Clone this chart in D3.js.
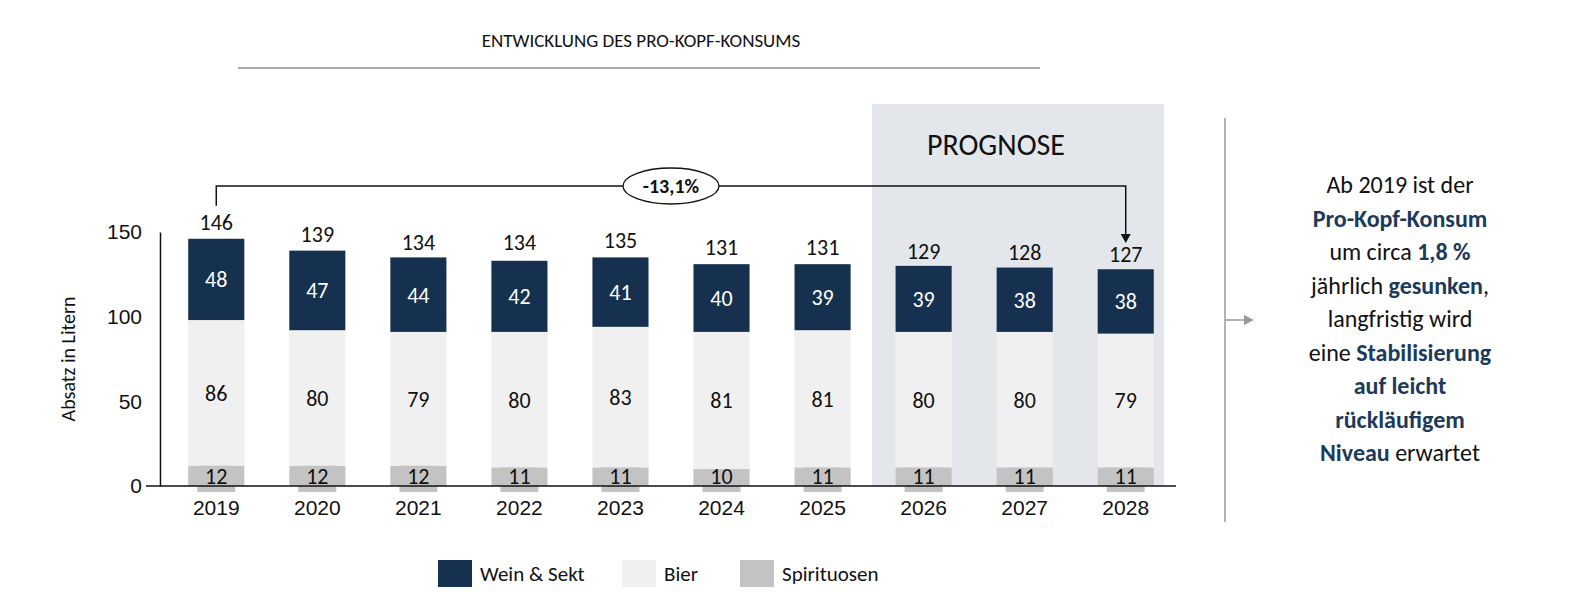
<!DOCTYPE html>
<html><head><meta charset="utf-8">
<script src="https://cdn.jsdelivr.net/npm/d3@7"></script>
<style>body{margin:0;background:#fff;font-family:Carlito,Lato,"Open Sans",sans-serif}</style>
</head><body><svg id="c" width="1592" height="604"></svg>
<script>
const years = ["2019","2020","2021","2022","2023","2024","2025","2026","2027","2028"];
const spirituosen = [12,12,12,11,11,10,11,11,11,11];
const bier = [86,80,79,80,83,81,81,80,80,79];
const wein = [48,47,44,42,41,40,39,39,38,38];
const totals = [146,139,134,134,135,131,131,129,128,127];
const yTicks = [0,50,100,150];
const series = [
  {key:"Spirituosen", vals:spirituosen, color:"#c3c3c3", text:"#111"},
  {key:"Bier", vals:bier, color:"#f0f0f0", text:"#111"},
  {key:"Wein & Sekt", vals:wein, color:"#15314f", text:"#fff"}
];
const navy = "#1c3a5a";
const svg = d3.select("#c");
const x = d3.scaleBand().domain(years).range([166,1176]).paddingInner(0.445).paddingOuter(0.22);
const y = d3.scaleLinear().domain([0,150]).range([486,232]);

// forecast area
svg.append("rect").attr("x",872).attr("y",104).attr("width",292).attr("height",382).attr("fill","#e3e7ec");
svg.append("text").attr("x",996).attr("y",155).attr("text-anchor","middle").attr("font-size",30).attr("fill","#111").text("PROGNOSE");

// title
svg.append("text").attr("x",641).attr("y",47).attr("text-anchor","middle").attr("font-size",19).attr("fill","#111").text("ENTWICKLUNG DES PRO-KOPF-KONSUMS");
svg.append("line").attr("x1",238).attr("x2",1040).attr("y1",68).attr("y2",68).attr("stroke","#555");

// stacks
years.forEach((yr,i)=>{
  let base = 0;
  series.forEach(s=>{
    const v = s.vals[i];
    svg.append("rect").attr("x",x(yr)).attr("width",x.bandwidth())
      .attr("y",y(base+v)).attr("height",y(base)-y(base+v)).attr("fill",s.color);
    const cx = x(yr)+x.bandwidth()/2;
    let cy = (y(base)+y(base+v))/2;
    if(s.key==="Spirituosen"){
      cy = y(0)-10;
      svg.append("rect").attr("x",cx-19).attr("y",cy-16).attr("width",38).attr("height",32).attr("fill",s.color);
    }
    svg.append("text").attr("x",cx).attr("y",cy+8).attr("text-anchor","middle")
      .attr("font-size",22).attr("fill",s.text).text(v);
    base += v;
  });
  svg.append("text").attr("x",x(yr)+x.bandwidth()/2).attr("y",y(totals[i])-9)
    .attr("text-anchor","middle").attr("font-size",22).attr("fill","#111").text(totals[i]);
});

// axes
const ya = svg.append("g").attr("transform","translate(160,0)")
  .call(d3.axisLeft(y).tickValues(yTicks).tickSize(0).tickPadding(18));
ya.select(".domain").attr("stroke","#111").attr("stroke-width",1.5);
ya.selectAll("text").attr("font-size",21).attr("fill","#111").attr("font-family","inherit");
const xa = svg.append("g").attr("transform","translate(0,486)")
  .call(d3.axisBottom(x).tickSize(0).tickPadding(14));
xa.select(".domain").attr("d","M146,0H1176").attr("stroke","#111").attr("stroke-width",1.5);
xa.selectAll("text").attr("font-size",21).attr("fill","#111").attr("font-family","inherit");
svg.append("text").attr("transform","translate(75,359) rotate(-90)").attr("text-anchor","middle")
  .attr("font-size",20).attr("fill","#111").text("Absatz in Litern");

// bracket
const x0 = x(years[0])+x.bandwidth()/2, x1 = x(years[9])+x.bandwidth()/2;
svg.append("path").attr("d",`M${x0},${y(totals[0])-33}V186H${x1}V${y(totals[9])-35}`)
  .attr("fill","none").attr("stroke","#111").attr("stroke-width",1.5);
svg.append("path").attr("d",`M${x1-5},${y(totals[9])-37}L${x1+5},${y(totals[9])-37}L${x1},${y(totals[9])-28}Z`).attr("fill","#111");
svg.append("ellipse").attr("cx",671).attr("cy",186).attr("rx",48).attr("ry",18).attr("fill","#fff").attr("stroke","#111").attr("stroke-width",1.3);
svg.append("text").attr("x",671).attr("y",193).attr("text-anchor","middle").attr("font-size",20).attr("font-weight","bold").attr("fill","#111").text("-13,1%");

// legend
const leg = [{k:"Wein & Sekt",c:"#15314f",x:438},{k:"Bier",c:"#f0f0f0",x:622},{k:"Spirituosen",c:"#c3c3c3",x:740}];
leg.forEach(l=>{
  svg.append("rect").attr("x",l.x).attr("y",560).attr("width",34).attr("height",27).attr("fill",l.c);
  svg.append("text").attr("x",l.x+42).attr("y",581).attr("font-size",21).attr("fill","#111").text(l.k);
});

// right annotation
svg.append("line").attr("x1",1225).attr("x2",1225).attr("y1",118).attr("y2",522).attr("stroke","#999").attr("stroke-width",1.5);
svg.append("line").attr("x1",1225).attr("x2",1246).attr("y1",320).attr("y2",320).attr("stroke","#999").attr("stroke-width",1.5);
svg.append("path").attr("d","M1244,315L1254,320L1244,325Z").attr("fill","#999");
const lines = [
  [["Ab 2019 ist der",0]],
  [["Pro-Kopf-Konsum",1]],
  [["um circa ",0],["1,8 %",1]],
  [["jährlich ",0],["gesunken",1],[",",0]],
  [["langfristig wird",0]],
  [["eine ",0],["Stabilisierung",1]],
  [["auf leicht",1]],
  [["rückläufigem",1]],
  [["Niveau",1],[" erwartet",0]]
];
lines.forEach((ln,i)=>{
  const t = svg.append("text").attr("x",1400).attr("y",193+i*33.5).attr("text-anchor","middle").attr("font-size",24);
  ln.forEach(([s,b])=>t.append("tspan").attr("fill",b?navy:"#111").attr("font-weight",b?600:400).text(s));
});
</script></body></html>
